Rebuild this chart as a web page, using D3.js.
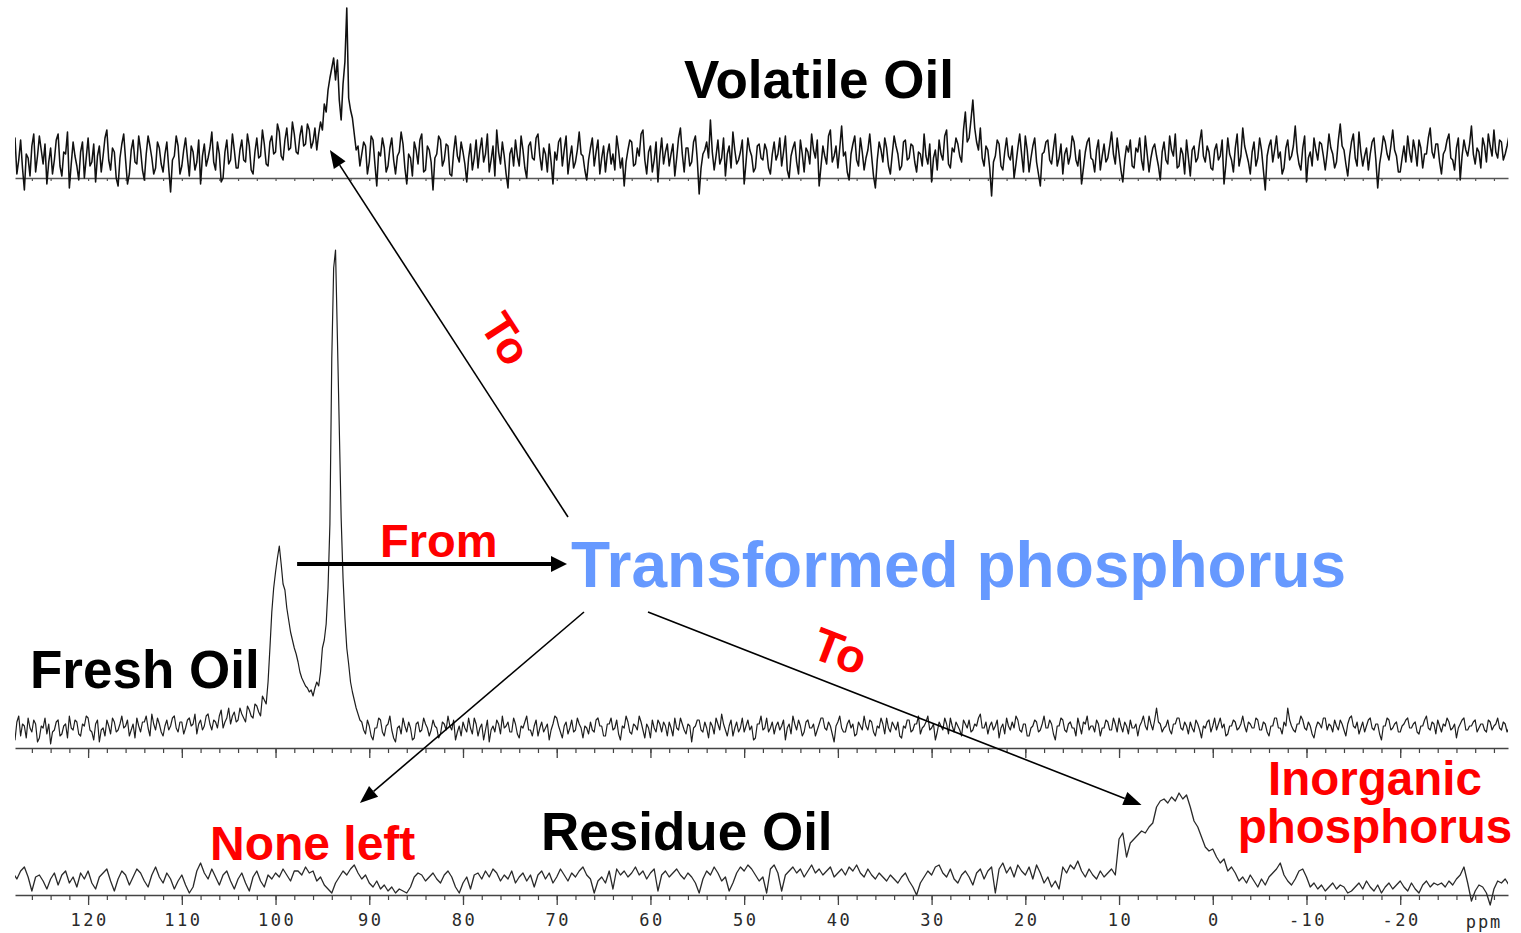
<!DOCTYPE html>
<html>
<head>
<meta charset="utf-8">
<script src="https://cdn.jsdelivr.net/npm/d3@7"></script>
<style>
  body { margin: 0; background: #fff; }
  svg { display: block; }
</style>
</head>
<body>
<svg id="chart" width="1521" height="933"></svg>
<script>
// 31P NMR spectra of three oil fractions, chemical shift in ppm (high to low).
// Intensities are in arbitrary units. All spectra start at 128 ppm; the volatile
// and fresh oils are sampled every 0.2 ppm, the residue every 0.4 ppm.
const ppmStart = 128;
const fineStep = 0.2;
const coarseStep = 0.4;

const volatileOil = [
  14,20, 2,9, 19,5, -6,12, 10,1, 16,22, 3,11, 21,14, 7,17, -3,8, 15,2, 9,19, 22,6, 1,13, 12,23, -5,7, 18,11, 6,-1, 13,18, 0,10,
  20,6, 8,17, -2,11, 16,3, 11,20, 24,9, 4,15, 13,0, -4,10, 17,22, 9,-3, 2,14, 19,8, 7,21, 14,4, -1,12, 21,16, 10,2, 5,18, 15,7,
  3,12, 18,5, -7,9, 11,21, 16,2, 6,14, 20,10, 1,16, 13,4, 8,19, -3,11, 17,6, 10,15, 23,8, 4,18, 12,-2, 0,13, 19,7, 9,22, 14,5,
  5,14, 19,9, 8,22, 16,4, 2,13, 20,10, 11,24, 17,7, 6,18, 21,12, 13,27, 23,11, 9,19, 25,14, 15,28, 22,13, 12,21, 26,16, 17,27, 24,15,
  18,25, 14,22, 28,24, 37,33, 44,50, 55,60, 49,59, 39,29, 47,58, 85,40, 34,30, 22,14, 16,6, 12,18, 16,2, 8,21, 19,7, -4,13, 11,20, 15,3,
  6,15, 20,9, 2,11, 13,23, 17,5, -3,12, 10,1, 18,14, 7,19, 22,3, 4,16, 14,8, -6,10, 12,21, 19,6, 9,17, 16,2, 1,13, 21,11, 8,18,
  13,7, -2,10, 17,4, 10,19, 5,14, 20,8, 12,22, 3,9, 16,1, 24,13, 7,18, 11,2, -5,12, 15,6, 19,11, 6,21, 14,5, 0,16, 18,10, 9,20,
  22,11, 4,15, 12,3, 17,8, -3,13, 9,18, 20,6, 14,21, 2,10, 16,5, 8,14, 23,12, 11,4, -1,9, 15,20, 6,13, 19,2, 10,16, 3,12, 17,7,
  12,4, 21,14, 5,10, -4,8, 14,19, 18,6, 7,15, 11,22, 24,9, 2,13, 16,3, 9,18, -2,11, 20,7, 13,17, 6,12, 17,1, 10,20, 25,12, 3,15,
  15,6, 8,18, 21,9, -8,5, 12,14, 18,10, 29,13, 4,11, 19,7, 10,20, 1,12, 16,5, 23,14, 7,9, 13,19, -3,8, 20,14, 11,3, 5,16, 17,10,
  9,17, 14,5, 2,12, 18,9, 12,20, 6,13, 21,4, 0,11, 15,18, 8,2, 19,12, 3,15, 13,7, 22,14, 10,19, -4,6, 16,11, 7,21, 24,8, 11,16,
  5,15, 26,11, 13,3, -1,12, 17,21, 9,6, 20,13, 4,10, 14,22, 11,1, -5,9, 18,14, 8,20, 15,6, 2,12, 21,16, 12,4, 6,18, 19,9, 10,17,
  16,8, 3,13, 12,6, 22,11, 7,17, -2,10, 14,4, 19,12, 9,21, 24,7, 5,15, 13,20, 17,11, 8,24, 33,18, 20,29, 39,25, 18,14, 25,10, 6,16,
  14,5, -9,8, 11,19, 17,6, 4,13, 20,11, 9,16, 0,7, 15,22, 12,3, 21,14, 3,10, 16,20, 8,2, -4,12, 13,18, 19,9, 7,15, 22,6, 10,17,
  2,12, 15,7, 11,21, 18,9, 6,14, -3,5, 13,18, 20,10, 9,3, 14,19, 4,11, 17,8, 10,16, 23,12, 7,20, 12,4, -2,9, 16,13, 19,6, 5,15,
  13,20, 9,4, 21,12, 3,10, 15,17, 11,6, -1,13, 18,9, 7,21, 14,11, 22,5, 6,15, 12,2, 19,10, 1,14, 16,8, 10,18, 24,11, 8,16, 13,5,
  4,14, 17,9, 11,19, -3,7, 20,12, 9,3, 15,22, 6,11, 25,16, 12,8, 2,13, 18,6, 10,20, 14,4, -6,11, 16,19, 8,14, 21,10, 13,2, 5,15,
  19,9, 11,16, 26,13, 7,4, 15,21, -2,10, 13,6, 20,14, 9,18, 17,11, 4,12, 22,15, 12,5, 8,19, 27,16, 14,7, 1,11, 18,22, 10,6, 23,13,
  6,11, 15,4, 12,18, 20,9, -5,7, 13,21, 18,12, 9,16, 24,14, 11,3, 3,10, 16,8, 21,13, 8,19, 14,6, 19,15, 5,12, 12,20, 25,13, 10,17,
  17,8, 2,12, 14,19, 22,10, 9,4, 15,20, -1,11, 19,14, 11,17, 26,12, 7,15, 13,5, 20,16, 8,22, 16,11, 24,13, 10,19, 18,9, 12,16, 21,12,
  -2
];

// Fresh oil, 128 -> 101.2 ppm
const freshOilLow = [
  9,4, 13,16, 6,12, 11,5, 15,10, 8,14, 12,3, 5,11, 10,15, 7,12, 2,8, 9,13, 14,6, 7,11, 12,5, 16,10, 9,14, 13,7, 6,12, 11,16,
  15,9, 8,4, 12,14, 3,9, 10,6, 14,11, 7,15, 13,8, 9,12, 16,10, 11,14, 6,9, 12,5, 15,11, 8,13, 13,16, 10,6, 17,12, 9,15, 12,8,
  6,11, 14,9, 11,15, 16,10, 8,13, 13,7, 10,14, 15,11, 12,17, 7,12, 14,9, 11,16, 17,12, 9,14, 13,10, 16,19, 10,13, 15,20, 12,16, 18,13,
  14,20, 17,15, 13,21, 19,16, 15,22, 21,18, 16,26, 24
];
// Fresh oil, resolved peaks 101.0 -> 91.0 ppm
const freshOilPeaks = [
  22, 33, 50, 68, 80, 88, 95, 101, 92, 82,
  79, 70, 64, 58, 54, 50, 47, 43, 38, 35,
  33, 31, 30, 28, 29, 26, 30, 33, 31, 38,
  50, 54, 62, 80, 112, 195, 240, 249, 205, 160,
  115, 85, 65, 50, 42, 33, 28, 24, 20, 17,
  14
];
// Fresh oil, 90.8 -> -32 ppm
const freshOilHigh = [
  13,9, 7,14, 11,6, 4,10, 10,15, 14,8, 6,11, 12,16, 9,5, 3,10, 11,7, 15,11, 8,13, 10,4, 5,12, 13,8, 9,15, 12,10, 6,9, 14,11,
  10,5, 7,13, 12,9, 16,11, 9,14, 4,8, 11,6, 13,10, 8,15, 10,7, 15,12, 6,10, 12,4, 9,14, 3,9, 11,8, 14,12, 7,16, 10,11, 13,8,
  8,15, 12,7, 5,11, 10,13, 16,9, 9,6, 11,14, 6,10, 13,8, 10,12, 4,9, 12,16, 15,11, 8,5, 11,13, 7,10, 14,8, 9,15, 12,10, 5,11,
  10,7, 13,9, 8,14, 15,11, 11,6, 6,12, 12,15, 9,10, 14,7, 4,11, 10,16, 13,8, 7,12, 11,9, 16,13, 9,5, 12,10, 5,14, 10,8, 14,12,
  8,13, 11,6, 13,10, 6,15, 10,9, 15,12, 9,7, 12,11, 3,10, 11,14, 14,9, 8,13, 10,5, 13,11, 7,15, 12,9, 17,12, 9,6, 11,14, 6,10,
  13,8, 10,15, 8,11, 14,9, 11,4, 5,12, 12,16, 9,10, 15,8, 10,13, 7,11, 13,9, 11,14, 4,10, 12,7, 16,12, 9,14, 11,6, 8,13, 14,10,
  10,12, 6,9, 12,15, 15,10, 9,13, 11,7, 3,11, 13,16, 10,8, 8,12, 14,10, 12,6, 7,13, 11,9, 16,11, 9,14, 13,8, 6,11, 10,15, 12,7,
  15,10, 8,13, 11,9, 13,6, 5,11, 10,14, 14,8, 9,12, 12,16, 7,10, 11,13, 16,9, 10,12, 4,8, 13,11, 9,15, 12,7, 15,11, 8,13, 11,9,
  6,14, 12,10, 14,8, 9,12, 11,15, 17,10, 10,13, 7,11, 13,9, 11,14, 5,10, 12,7, 15,11, 9,13, 10,16, 14,9, 8,12, 12,6, 6,10, 11,14,
  13,8, 9,12, 16,10, 10,14, 12,7, 4,11, 11,15, 14,9, 8,12, 13,10, 10,6, 15,11, 7,13, 12,16, 9,11, 11,8, 14,12, 6,10, 10,14, 13,9,
  9,15, 12,8, 15,11, 8,13, 11,7, 14,10, 10,12, 6,11, 13,16, 11,9, 16,12, 9,14, 20,13, 12,8, 10,11, 14,9, 7,12, 12,15, 15,10, 9,13,
  11,7, 13,10, 8,14, 12,9, 5,11, 10,13, 14,8, 11,15, 9,12, 15,10, 12,6, 7,11, 11,14, 13,9, 10,12, 16,11, 8,13, 12,10, 10,15, 14,9,
  9,13, 12,8, 6,11, 11,15, 15,10, 10,7, 13,11, 20,14, 11,9, 8,12, 12,16, 14,10, 9,13, 11,7, 5,10, 13,12, 10,15, 15,9, 12,11, 8,14,
  11,9, 14,12, 9,6, 12,15, 16,11, 10,13, 7,10, 13,8, 11,14, 15,10, 9,12, 12,7, 4,11, 11,15, 14,9, 10,12, 13,8, 8,11, 12,14, 15,10,
  10,12, 13,8, 7,11, 11,14, 16,10, 9,13, 12,7, 14,11, 8,12, 11,15, 13,9, 10,12, 5,10, 12,14, 15,9, 9,11, 11,13, 14,8, 10,12, 12,9,
  8,14, 13,9, 11,12, 15,10, 9,13, 12,8, 10,6, 2
];

const residueOil = [
  11, 8, 12, 14, 9, 2, 9, 10, 7, 3, 8, 11, 5, 10, 12, 6, 9, 4, 11, 8,
  12, 6, 3, 9, 11, 13, 7, 2, 8, 12, 10, 5, 9, 13, 11, 7, 4, 10, 14, 9,
  6, 11, 8, 3, 7, 10, 5, 1, 4, 12, 16, 11, 8, 13, 9, 5, 10, 12, 7, 3,
  8, 11, 6, 2, 9, 12, 7, 4, 10, 8, 11, 9, 13, 10, 7, 12, 12, 10, 14, 11,
  12, 7, 9, 5, 3, 1, 6, 9, 12, 10, 13, 15, 11, 8, 10, 6, 4, 7, 3, 5,
  2, 4, 1, 3, 2, 1, 4, 9, 11, 10, 7, 9, 11, 8, 6, 10, 12, 9, 4, 1,
  6, 9, 3, 10, 11, 8, 12, 9, 13, 11, 7, 10, 8, 12, 6, 9, 11, 7, 10, 4,
  10, 12, 8, 11, 6, 9, 13, 10, 7, 11, 9, 12, 14, 10, 8, 1, 7, 9, 6, 12,
  3, 13, 10, 12, 9, 11, 14, 10, 12, 8, 11, 13, 2, 10, 12, 9, 11, 13, 10, 8,
  11, 9, 6, 1, 8, 12, 10, 14, 11, 7, 9, 2, 6, 11, 14, 12, 15, 13, 10, 7,
  9, 1, 13, 15, 11, 2, 10, 12, 14, 11, 13, 9, 12, 15, 11, 13, 10, 12, 14, 9,
  11, 13, 10, 14, 12, 15, 11, 9, 13, 10, 8, 11, 9, 7, 10, 8, 6, 9, 11, 7,
  4, 0, 6, 9, 12, 10, 14, 15, 11, 9, 13, 8, 6, 10, 12, 9, 5, 11, 13, 8,
  12, 14, 1, 13, 16, 11, 14, 9, 15, 12, 10, 14, 8, 15, 11, 6, 9, 4, 7, 3,
  14, 11, 15, 13, 17, 12, 9, 13, 10, 8, 12, 9, 11, 13, 10, 28, 31, 19, 26, 28,
  30, 32, 31, 34, 36, 44, 47, 48, 46, 49, 47, 51, 48, 50, 44, 37, 34, 29, 24, 22,
  23, 19, 16, 18, 12, 14, 11, 7, 9, 6, 10, 7, 4, 8, 5, 9, 11, 13, 16, 10,
  7, 5, 8, 12, 13, 9, 4, 6, 3, 5, 2, 4, 6, 3, 5, 4, 1, 2, 4, 6,
  3, 7, 4, 2, 5, 1, 4, 6, 3, 5, 7, 4, 2, 6, 3, 1, 5, 7, 4, 6,
  5, 6, 4, 7, 5, 8, 10, 14, 6, -3, 2, 5, 4, 1, -5, 3, 7, 6, 8, 5,
  9
];

const majorTicks = [120, 110, 100, 90, 80, 70, 60, 50, 40, 30, 20, 10, 0, -10, -20];
const axisUnit = "ppm";

// ---------------------------------------------------------------------------
const svg = d3.select("#chart");

const x = d3.scaleLinear().domain([127.8, -31.5]).range([15, 1508]);

// one band per spectrum: baseline pixel and a common intensity scale
function bandScale(baseY) {
  return d3.scaleLinear().domain([0, 250]).range([baseY, baseY - 500]);
}
const yVol = bandScale(178);
const yFresh = bandScale(748);
const yRes = bandScale(895);

function series(start, step, values) {
  return values.map((v, i) => ({ ppm: +(start - step * i).toFixed(2), v }));
}

const volatilePts = series(ppmStart, fineStep, volatileOil);
const freshPts = series(ppmStart, fineStep, freshOilLow.concat(freshOilPeaks, freshOilHigh));
const residuePts = series(ppmStart, coarseStep, residueOil);

svg.append("defs").append("clipPath").attr("id", "plotClip")
  .append("rect").attr("x", 15).attr("y", 0).attr("width", 1493).attr("height", 933);

const minorTicks = d3.range(126, -31, -2);

// baseline axes
function drawAxis(baseY, minorLen, majorLen, color, labels) {
  const gMinor = svg.append("g").attr("transform", `translate(0,${baseY})`)
    .call(d3.axisBottom(x).tickValues(minorTicks).tickSize(minorLen).tickSizeOuter(0).tickFormat(""));
  gMinor.select(".domain").attr("stroke", color).attr("stroke-width", 1.3);
  gMinor.selectAll(".tick line").attr("stroke", color).attr("stroke-width", 1.2);
  if (majorLen) {
    const gMajor = svg.append("g").attr("transform", `translate(0,${baseY})`)
      .call(d3.axisBottom(x).tickValues(majorTicks).tickSize(majorLen).tickSizeOuter(0)
        .tickFormat(labels ? d => (d < 0 ? "-" + Math.abs(d) : String(d)) : ""));
    gMajor.select(".domain").remove();
    gMajor.selectAll(".tick line").attr("stroke", color).attr("stroke-width", 1.3);
    gMajor.selectAll(".tick text")
      .attr("font-family", "'DejaVu Sans Mono', monospace")
      .attr("font-size", 17)
      .attr("letter-spacing", "2.5px")
      .attr("fill", "#2a2a2a")
      .attr("dx", "1px")
      .attr("dy", "1.05em");
  }
}
drawAxis(yVol(0), 3, 0, "#555", false);
drawAxis(yFresh(0), 5, 10, "#444", false);
drawAxis(yRes(0), 5, 10, "#444", true);

svg.append("text")
  .attr("x", 1484).attr("y", 928)
  .attr("text-anchor", "middle")
  .attr("font-family", "'DejaVu Sans Mono', monospace")
  .attr("font-size", 17)
  .attr("letter-spacing", "2px")
  .attr("fill", "#2a2a2a")
  .text(axisUnit);

// spectra
function drawSpectrum(pts, y, color, width) {
  const line = d3.line().x(d => x(d.ppm)).y(d => y(d.v));
  svg.append("path")
    .datum(pts)
    .attr("clip-path", "url(#plotClip)")
    .attr("d", line)
    .attr("fill", "none")
    .attr("stroke", color)
    .attr("stroke-width", width)
    .attr("stroke-linejoin", "round");
}
drawSpectrum(volatilePts, yVol, "#111", 1.55);
drawSpectrum(freshPts, yFresh, "#1e1e1e", 1.2);
drawSpectrum(residuePts, yRes, "#2a2a2a", 1.3);

// ---------------------------------------------------------------------------
// labels
const labelFont = "'Liberation Sans', Arial, Helvetica, sans-serif";
function label(txt, px, py, size, color, anchor) {
  return svg.append("text")
    .attr("x", px).attr("y", py)
    .attr("font-family", labelFont)
    .attr("font-weight", "bold")
    .attr("font-size", size)
    .attr("fill", color)
    .attr("text-anchor", anchor || "start")
    .text(txt);
}
label("Volatile Oil", 684, 98, 53, "#000");
label("Fresh Oil", 30, 688, 53, "#000");
label("Residue Oil", 541, 850, 53, "#000");
label("From", 380, 557, 47, "#ff0000");
label("Transformed phosphorus", 571, 587, 64, "#6699ff");
label("None left", 210, 860, 48, "#ff0000");
label("Inorganic", 1375, 795, 47.5, "#ff0000", "middle");
label("phosphorus", 1375, 843, 47.5, "#ff0000", "middle");

function rotatedLabel(txt, cx, cy, angle, size) {
  svg.append("text")
    .attr("transform", `translate(${cx},${cy}) rotate(${angle})`)
    .attr("font-family", labelFont)
    .attr("font-weight", "bold")
    .attr("font-size", size)
    .attr("fill", "#ff0000")
    .attr("text-anchor", "middle")
    .attr("dominant-baseline", "central")
    .text(txt);
}
rotatedLabel("To", 506, 339, 57, 45);
rotatedLabel("To", 840, 651, 21, 47);

// arrows: tips are anchored to spectrum features (ppm, intensity)
function arrow(p0, p1, width, headLen, headHalf) {
  const ang = Math.atan2(p1[1] - p0[1], p1[0] - p0[0]);
  const bx = p1[0] - headLen * Math.cos(ang);
  const by = p1[1] - headLen * Math.sin(ang);
  svg.append("line")
    .attr("x1", p0[0]).attr("y1", p0[1]).attr("x2", bx).attr("y2", by)
    .attr("stroke", "#000").attr("stroke-width", width);
  const nx = -Math.sin(ang) * headHalf, ny = Math.cos(ang) * headHalf;
  svg.append("path")
    .attr("d", `M${p1[0]},${p1[1]}L${bx + nx},${by + ny}L${bx - nx},${by - ny}Z`)
    .attr("fill", "#000");
}
arrow([x(97.7), yFresh(92)], [567, yFresh(92)], 4, 16, 8);
arrow([568, 517], [x(94.2), yVol(14)], 1.6, 18, 7);
arrow([584, 612], [x(91.0), yRes(46)], 1.6, 18, 7);
arrow([648, 612], [x(7.6), yRes(45)], 1.6, 18, 7);
</script>
</body>
</html>
